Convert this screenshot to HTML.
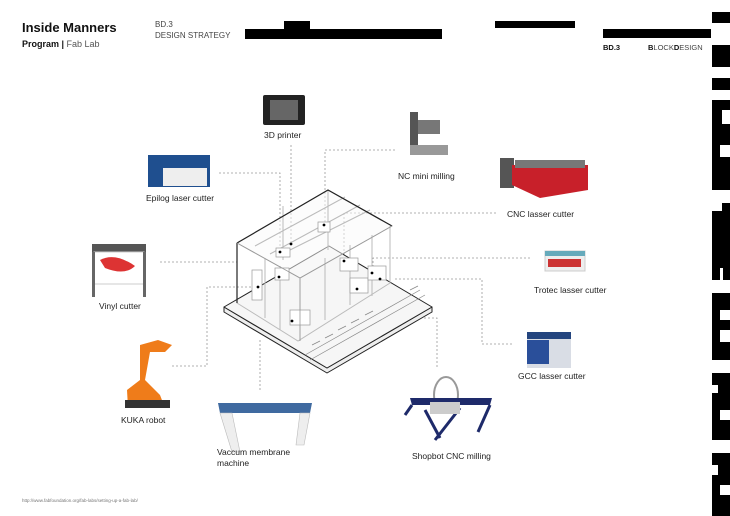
<!DOCTYPE html>
<html><head><meta charset="utf-8"><style>
body{margin:0;width:730px;height:516px;background:#fff;overflow:hidden;font-family:"Liberation Sans",sans-serif;}
svg{position:absolute;left:0;top:0}
</style></head><body>
<svg width="730" height="516" viewBox="0 0 730 516" xmlns="http://www.w3.org/2000/svg" font-family="Liberation Sans, sans-serif">
<!-- header -->
<text x="22" y="32" font-size="13" font-weight="bold" fill="#111">Inside Manners</text>
<text x="22" y="47" font-size="9" fill="#111"><tspan font-weight="bold">Program |</tspan><tspan fill="#555"> Fab Lab</tspan></text>
<text x="155" y="27" font-size="8" fill="#444">BD.3</text>
<text x="155" y="38" font-size="8" fill="#444">DESIGN STRATEGY</text>
<rect x="245" y="29" width="197" height="10" fill="#000"/>
<rect x="284" y="21" width="26" height="8" fill="#000"/>
<rect x="495" y="21" width="80" height="7" fill="#000"/>
<rect x="603" y="29" width="108" height="9" fill="#000"/>
<text x="603" y="50" font-size="7.5" font-weight="bold" fill="#111">BD.3</text>
<text x="648" y="50" font-size="7.5" fill="#444"><tspan font-weight="bold" fill="#111">B</tspan>LOCK<tspan font-weight="bold" fill="#111">D</tspan>ESIGN</text>
<!-- right strip -->
<g fill="#000">
<rect x="712" y="12" width="18" height="11"/>
<rect x="712" y="45" width="18" height="22"/>
<rect x="712" y="78" width="18" height="12"/>
<rect x="712" y="100" width="18" height="90"/>
<rect x="712" y="203" width="18" height="77"/>
<rect x="712" y="293" width="18" height="67"/>
<rect x="712" y="373" width="18" height="67"/>
<rect x="712" y="453" width="18" height="63"/>
</g>
<g fill="#fff">
<rect x="722" y="110" width="8" height="14"/><rect x="720" y="145" width="10" height="12"/>
<rect x="712" y="203" width="10" height="8"/><rect x="720" y="268" width="3" height="12"/>
<rect x="720" y="310" width="10" height="10"/><rect x="720" y="330" width="10" height="12"/>
<rect x="712" y="385" width="6" height="8"/><rect x="720" y="410" width="10" height="10"/>
<rect x="712" y="465" width="6" height="10"/><rect x="720" y="485" width="10" height="10"/>
</g>
<!-- leader lines -->
<g fill="none" stroke="#999" stroke-width="0.8" stroke-dasharray="2,2">
<path d="M291 145 V244"/>
<path d="M219 173 H280 V252"/>
<path d="M395 150 H325 V225"/>
<path d="M496 213 H344 V261"/>
<path d="M160 262 H237"/>
<path d="M172 366 H207 V287 H258"/>
<path d="M530 258 H373 V273"/>
<path d="M512 344 H482 V279 H393"/>
<path d="M437 367 V318 H357 V289"/>
<path d="M260 390 V338"/>
</g>
<!-- building base -->
<g stroke="#222" stroke-width="1" stroke-linejoin="round">
<polygon points="224,307 327,368 432,307 432,312 327,373 224,312" fill="#eee"/>
<polygon points="224,307 329,246 432,307 327,368" fill="#f6f6f6"/>
</g>
<g stroke="#888" stroke-width="0.7" fill="none">
<path d="M305 355 L420 290"/><path d="M310 360 L425 295"/>
<path d="M312 345 l8 -4 M325 338 l8 -4 M338 330 l8 -4 M351 323 l8 -4 M365 315 l8 -4 M410 290 l8 -4"/>
</g>
<!-- walls -->
<g fill="none" stroke="#bbb" stroke-width="1">
<polygon points="237,243 300,278 392,226 328,190" fill="#fafafa" fill-opacity="0.5"/>
<path d="M237 243 V303 L298 341 L390 283 V226"/>
<path d="M300 278 V341"/>
<path d="M328 190 V250"/>
<path d="M265 258 V318 M280 266 V330 M325 258 V320 M350 245 V305 M372 235 V296 M283 206 V260"/>
<path d="M255 246 L345 197 M270 254 L360 205 M290 250 L370 210"/>
</g>
<g fill="#fff" stroke="#999" stroke-width="0.7">
<rect x="252" y="270" width="10" height="30"/>
<rect x="275" y="268" width="14" height="12"/>
<rect x="290" y="310" width="20" height="15"/>
<rect x="340" y="258" width="18" height="13"/>
<rect x="350" y="278" width="18" height="15"/>
<rect x="368" y="266" width="18" height="14"/>
<rect x="318" y="222" width="12" height="10"/>
<rect x="276" y="248" width="14" height="9"/>
</g>
<g fill="none" stroke="#222" stroke-width="1.2" stroke-linejoin="round">
<path d="M237 243 L328 190 L392 226"/>
<path d="M237 243 V303"/>
<path d="M237 243 L300 278 L392 226 M300 278 V341" stroke="#999" stroke-width="0.8"/>
</g>
<g fill="#000">
<circle cx="291" cy="244" r="1.4"/><circle cx="280" cy="252" r="1.4"/><circle cx="324" cy="225" r="1.4"/>
<circle cx="344" cy="261" r="1.4"/><circle cx="258" cy="287" r="1.4"/><circle cx="279" cy="277" r="1.4"/>
<circle cx="372" cy="273" r="1.4"/><circle cx="380" cy="279" r="1.4"/><circle cx="357" cy="289" r="1.4"/><circle cx="292" cy="321" r="1.4"/>
</g>
<!-- machine images -->
<rect x="263" y="95" width="42" height="30" rx="2" fill="#222"/><rect x="270" y="100" width="28" height="20" fill="#666"/>
<rect x="410" y="112" width="8" height="40" fill="#555"/><rect x="418" y="120" width="22" height="14" fill="#777"/><rect x="410" y="145" width="38" height="10" fill="#999"/>
<rect x="148" y="155" width="62" height="32" fill="#1f4f8f"/><rect x="163" y="168" width="44" height="18" fill="#eee"/>
<rect x="500" y="158" width="14" height="30" fill="#555"/><polygon points="512,165 588,165 588,190 540,198 512,185" fill="#c8202a"/><rect x="515" y="160" width="70" height="8" fill="#777"/>
<rect x="92" y="244" width="54" height="8" fill="#555"/><rect x="94" y="252" width="50" height="32" fill="#fff" stroke="#ccc"/><path d="M100 260 q15 -8 35 6 q-10 10 -30 2" fill="#d33"/><rect x="92" y="252" width="3" height="45" fill="#666"/><rect x="143" y="252" width="3" height="45" fill="#666"/>
<rect x="545" y="251" width="40" height="20" fill="#eee" stroke="#ccc"/><rect x="545" y="251" width="40" height="5" fill="#6ab"/><rect x="548" y="259" width="33" height="8" fill="#c33"/>
<rect x="527" y="332" width="44" height="36" fill="#d9dde5"/><rect x="527" y="340" width="22" height="24" fill="#2a4f9a"/><rect x="527" y="332" width="44" height="7" fill="#24457f"/>
<path d="M140 345 L158 340 L172 345 L165 352 L150 352 L145 380 L160 395 L165 408 L128 408 L127 390 L140 380 Z" fill="#ef7c1a"/><rect x="125" y="400" width="45" height="8" fill="#333"/>
<polygon points="218,403 312,403 310,413 220,413" fill="#3f6aa0"/><polygon points="220,413 232,413 240,452 232,452" fill="#eee" stroke="#bbb" stroke-width="0.6"/><polygon points="300,413 310,413 304,445 296,445" fill="#eee" stroke="#bbb" stroke-width="0.6"/>
<ellipse cx="446" cy="395" rx="12" ry="18" fill="none" stroke="#999" stroke-width="2"/>
<polygon points="410,398 492,398 490,405 412,405" fill="#1e2a6a"/><path d="M412 405 L405 415 M490 405 L478 432 M425 410 L440 438 M460 408 L435 440" stroke="#1e2a6a" stroke-width="3"/><rect x="430" y="402" width="30" height="12" fill="#ccc"/>
<!-- labels -->
<g font-size="8.5" fill="#222">
<text x="264" y="138">3D printer</text>
<text x="398" y="179">NC mini milling</text>
<text x="146" y="201">Epilog laser cutter</text>
<text x="507" y="217">CNC lasser cutter</text>
<text x="99" y="309">Vinyl cutter</text>
<text x="534" y="293">Trotec lasser cutter</text>
<text x="518" y="379">GCC lasser cutter</text>
<text x="121" y="423">KUKA robot</text>
<text x="217" y="455">Vaccum membrane</text>
<text x="217" y="466">machine</text>
<text x="412" y="459">Shopbot CNC milling</text>
</g>
<text x="22" y="502" font-size="4.5" fill="#777">http://www.fabfoundation.org/fab-labs/setting-up-a-fab-lab/</text>
</svg>
</body></html>
